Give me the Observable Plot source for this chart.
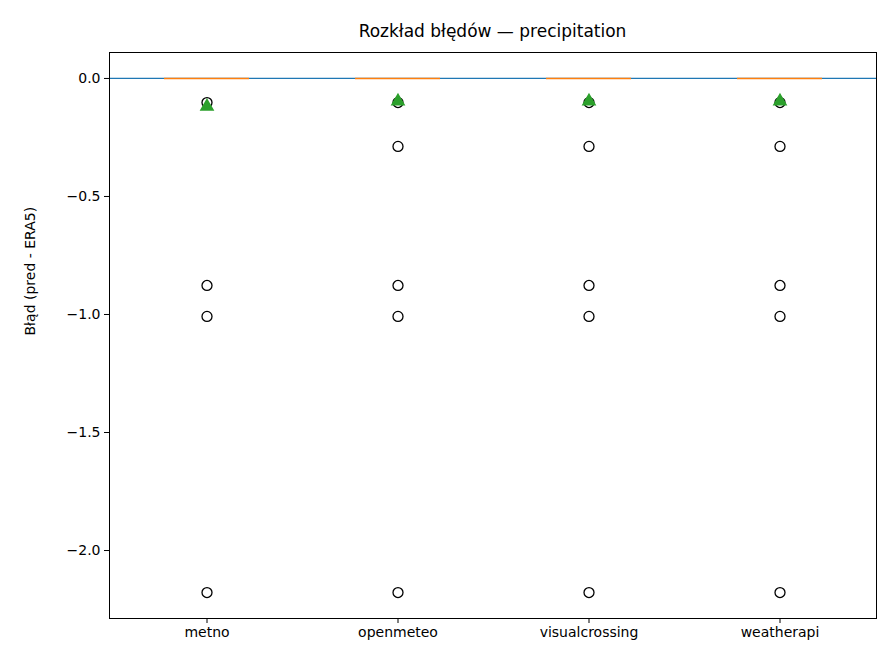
<!DOCTYPE html>
<html>
<head>
<meta charset="utf-8">
<script src="https://cdn.jsdelivr.net/npm/d3@7"></script>
<script src="https://cdn.jsdelivr.net/npm/@observablehq/plot@0.6"></script>
<style>
  body { margin: 0; background: #fff; font-family: "DejaVu Sans", sans-serif; }
  #wrap { position: relative; width: 896px; height: 672px; }
  #title { position: absolute; left: 109px; width: 767px; top: 21px; text-align: center; font-size: 17px; }
</style>
</head>
<body>
<div id="wrap"><div id="title">Rozkład błędów — precipitation</div><div id="chart"></div></div>
<script>
const providers = ["metno", "openmeteo", "visualcrossing", "weatherapi"];
const medians = [0, 0, 0, 0];
const means = [-0.119, -0.097, -0.097, -0.097];
const outliers = [
  [-0.102, -0.877, -1.008, -2.178],
  [-0.102, -0.288, -0.877, -1.008, -2.178],
  [-0.102, -0.288, -0.877, -1.008, -2.178],
  [-0.102, -0.288, -0.877, -1.008, -2.178]
];
const yTicks = [0, -0.5, -1, -1.5, -2];

const outlierRows = providers.flatMap((p, i) => outliers[i].map(v => ({provider: p, value: v})));
const meanRows = providers.map((p, i) => ({provider: p, value: means[i]}));
const medianRows = providers.map((p, i) => ({provider: p, value: medians[i]}));

document.addEventListener('DOMContentLoaded', function () {
  const chart = Plot.plot({
    width: 896, height: 672,
    marginLeft: 109, marginRight: 20, marginTop: 52, marginBottom: 54,
    style: {fontFamily: "DejaVu Sans, sans-serif", color: "#000"},
    x: {type: "band", domain: providers, padding: 0},
    y: {domain: [-2.288, 0.11]},
    marks: [
      Plot.axisX({label: null, tickSize: 5, tickPadding: 4, fontSize: 14}),
      Plot.axisY(yTicks, {tickFormat: d3.format(".1f"), tickSize: 5, tickPadding: 4, fontSize: 14,
        label: null}),
      Plot.text(["Błąd (pred - ERA5)"], {frameAnchor: "left", dx: -79, rotate: -90, fontSize: 14}),
      Plot.ruleY([0], {stroke: "#1f77b4", strokeWidth: 1.3}),
      Plot.tickY(medianRows, {x: "provider", y: "value", stroke: "#ff7f0e", strokeWidth: 1.5, insetLeft: 53, insetRight: 53}),
      Plot.dot(outlierRows, {x: "provider", y: "value", r: 5, stroke: "black", fill: "none", strokeWidth: 1.3}),
      Plot.dot(meanRows, {x: "provider", y: "value", symbol: "triangle", r: 4.5, fill: "#2ca02c", stroke: "#2ca02c"}),
      Plot.frame({stroke: "black"})
    ]
  });
  document.getElementById("chart").appendChild(chart);
});
</script>
</body>
</html>
